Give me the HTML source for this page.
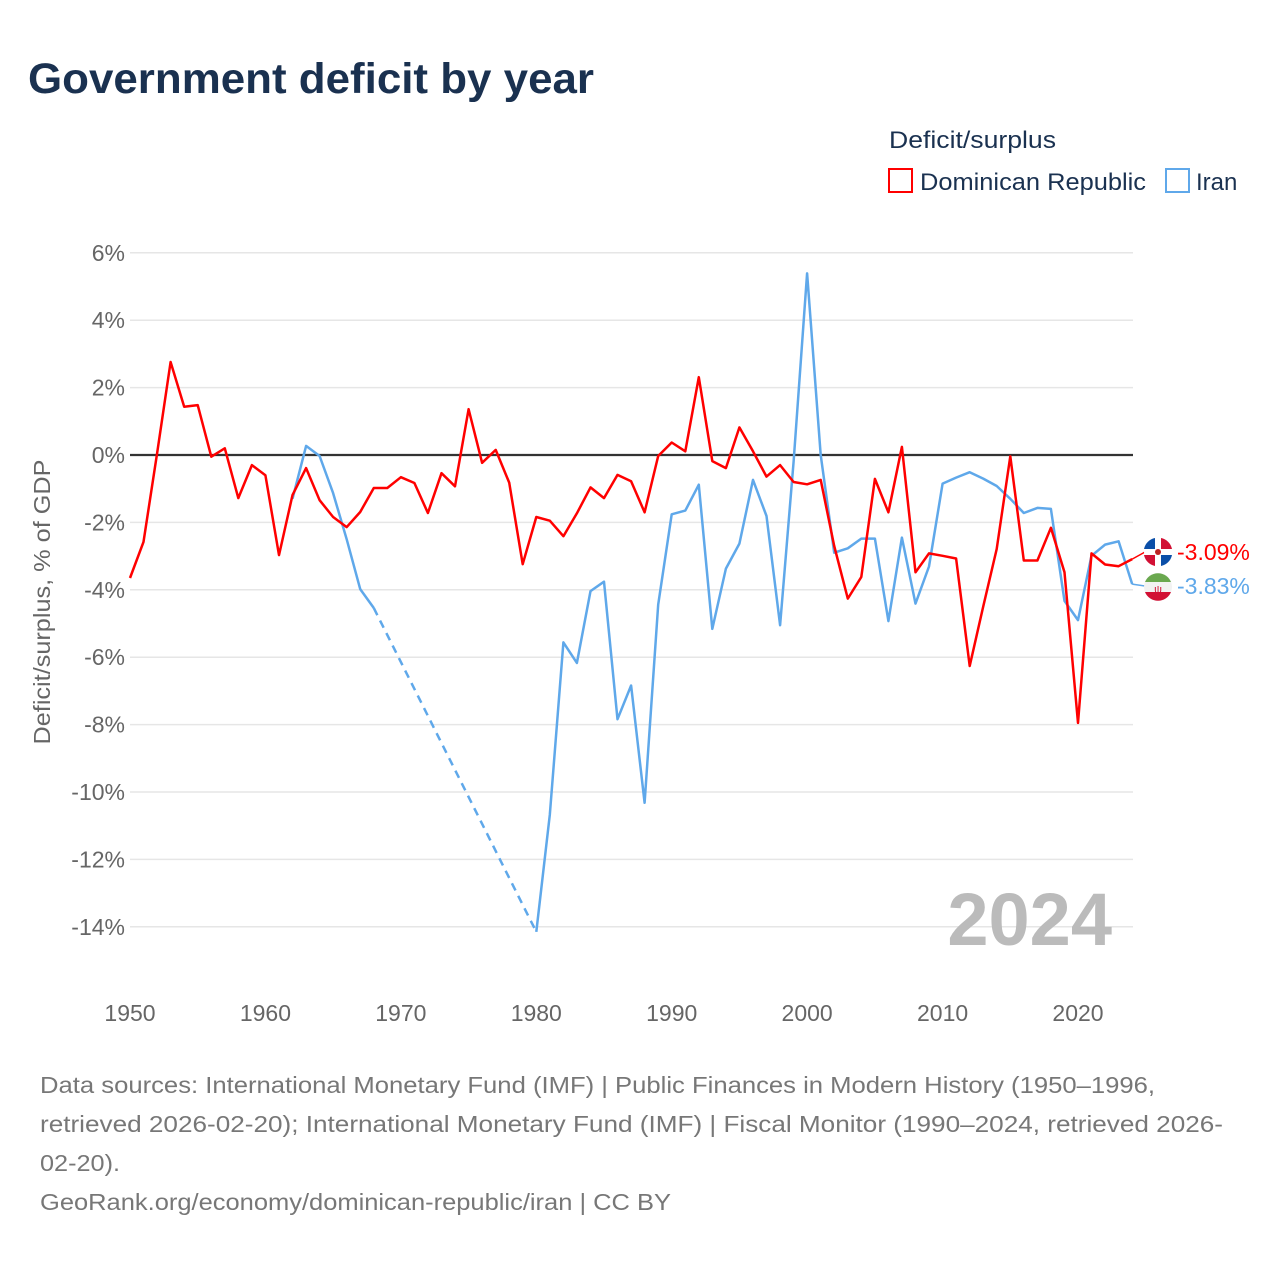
<!DOCTYPE html>
<html><head><meta charset="utf-8">
<style>
html,body{margin:0;padding:0;background:#fff;}
svg{display:block;font-family:"Liberation Sans",sans-serif;}
</style></head>
<body>
<svg id="chart" width="1280" height="1280" viewBox="0 0 1280 1280">
<text x="28" y="93" font-size="43" font-weight="bold" fill="#1a3150" textLength="566" lengthAdjust="spacingAndGlyphs">Government deficit by year</text>
<text x="889" y="148" font-size="24" fill="#1a3150" textLength="167" lengthAdjust="spacingAndGlyphs">Deficit/surplus</text>
<g>
<rect x="889" y="169" width="23" height="23" fill="none" stroke="#f00" stroke-width="2"/>
<text x="920" y="190" font-size="24" fill="#1a3150" textLength="226" lengthAdjust="spacingAndGlyphs">Dominican Republic</text>
</g>
<g>
<rect x="1166" y="169" width="23" height="23" fill="none" stroke="#5fa8ea" stroke-width="2"/>
<text x="1196" y="190" font-size="24" fill="#1a3150">Iran</text>
</g>
<g id="grid"></g>
<g id="yticks"></g>
<g id="xticks"></g>
<text transform="translate(50,602) rotate(-90)" text-anchor="middle" font-size="23" fill="#666" textLength="285" lengthAdjust="spacingAndGlyphs">Deficit/surplus, % of GDP</text>
<text x="1112" y="945" text-anchor="end" font-size="74" font-weight="bold" fill="#bbb">2024</text>
<g id="series"></g>
<g font-size="23.5" fill="#777">
<text x="40" y="1093" textLength="1115" lengthAdjust="spacingAndGlyphs">Data sources: International Monetary Fund (IMF) | Public Finances in Modern History (1950–1996,</text>
<text x="40" y="1132" textLength="1183" lengthAdjust="spacingAndGlyphs">retrieved 2026-02-20); International Monetary Fund (IMF) | Fiscal Monitor (1990–2024, retrieved 2026-</text>
<text x="40" y="1171" textLength="80" lengthAdjust="spacingAndGlyphs">02-20).</text>
<text x="40" y="1210" textLength="631" lengthAdjust="spacingAndGlyphs">GeoRank.org/economy/dominican-republic/iran | CC BY</text>
</g>
</svg>
<script>
const drYears = [];
for (let y = 1950; y <= 2024; y++) drYears.push(y);
const drValues = [-3.65,-2.58,0.05,2.76,1.43,1.48,-0.05,0.2,-1.28,-0.3,-0.6,-2.97,-1.19,-0.39,-1.34,-1.84,-2.14,-1.69,-0.98,-0.98,-0.66,-0.83,-1.72,-0.54,-0.93,1.36,-0.23,0.15,-0.82,-3.24,-1.84,-1.95,-2.41,-1.73,-0.96,-1.28,-0.59,-0.78,-1.7,-0.03,0.37,0.11,2.31,-0.18,-0.39,0.82,0.11,-0.64,-0.3,-0.8,-0.87,-0.74,-2.7,-4.26,-3.62,-0.71,-1.7,0.24,-3.48,-2.92,-2.99,-3.07,-6.26,-4.5,-2.79,-0.04,-3.13,-3.13,-2.16,-3.48,-7.95,-2.92,-3.25,-3.3,-3.09];
const irYearsA = [1962,1963,1964,1965,1966,1967,1968];
const irValuesA = [-1.3,0.27,-0.03,-1.13,-2.5,-3.98,-4.54];
const irYearsB = [];
for (let y = 1980; y <= 2024; y++) irYearsB.push(y);
const irValuesB = [-14.15,-10.68,-5.56,-6.17,-4.04,-3.76,-7.84,-6.84,-10.32,-4.44,-1.76,-1.65,-0.88,-5.16,-3.37,-2.63,-0.74,-1.81,-5.05,-0.2,5.39,0,-2.9,-2.77,-2.48,-2.48,-4.93,-2.45,-4.41,-3.31,-0.85,-0.67,-0.51,-0.7,-0.92,-1.3,-1.72,-1.57,-1.6,-4.33,-4.9,-2.99,-2.66,-2.56,-3.83];
const yTicks = [6,4,2,0,-2,-4,-6,-8,-10,-12,-14];
const xTicks = [1950,1960,1970,1980,1990,2000,2010,2020];

const NS = "http://www.w3.org/2000/svg";
const X = yr => 130 + (yr - 1950) * (1078 - 130) / 70;
const Y = v => 455 - v * 33.7;
function mk(tag, attrs, parent){const e=document.createElementNS(NS,tag);for(const k in attrs)e.setAttribute(k,attrs[k]);parent.appendChild(e);return e;}
const grid=document.getElementById('grid'), yt=document.getElementById('yticks'), xt=document.getElementById('xticks'), ser=document.getElementById('series');
yTicks.forEach(t=>{
  if(t!==0){const l=mk('line',{x1:130,x2:1133,y1:Y(t),y2:Y(t),stroke:'#e6e6e6','stroke-width':1.5},grid);
  
  }
  const tx=mk('text',{x:125,y:Y(t)+8,'text-anchor':'end','font-size':23,fill:'#666'},yt);
  tx.textContent=t+'%';
  
  
});
xTicks.forEach(t=>{
  const tx=mk('text',{x:X(t),y:1021,'text-anchor':'middle','font-size':23,fill:'#666'},xt);
  tx.textContent=t;
  
  
});
const zl=mk('line',{x1:130,x2:1133,y1:Y(0),y2:Y(0),stroke:'#333','stroke-width':2.2},grid);


function pts(xs,vs){return xs.map((x,i)=>X(x).toFixed(1)+','+Y(vs[i]).toFixed(1)).join(' ');}
const ia=mk('polyline',{points:pts(irYearsA,irValuesA),fill:'none',stroke:'#5fa8ea','stroke-width':2.5,'stroke-linejoin':'round'},ser);


const id=mk('line',{x1:X(1968),y1:Y(irValuesA[irValuesA.length-1]),x2:X(1980),y2:Y(irValuesB[0]),stroke:'#5fa8ea','stroke-width':2.5,'stroke-dasharray':'8,6'},ser);


const ib=mk('polyline',{points:pts(irYearsB,irValuesB),fill:'none',stroke:'#5fa8ea','stroke-width':2.5,'stroke-linejoin':'round'},ser);


const dr=mk('polyline',{points:pts(drYears,drValues),fill:'none',stroke:'#f00','stroke-width':2.5,'stroke-linejoin':'round'},ser);


const drLast=drValues[drValues.length-1], irLast=irValuesB[irValuesB.length-1];
const c1=mk('line',{x1:X(2024),x2:1145,y1:Y(drLast),y2:552,stroke:'#f00','stroke-width':1.5},ser);


const c2=mk('line',{x1:X(2024),x2:1145,y1:Y(irLast),y2:586,stroke:'#5fa8ea','stroke-width':1.5},ser);


const f1=mk('g',{},ser);


mk('circle',{cx:1158,cy:552,r:14,fill:'#fff'},f1);
mk('path',{d:'M1144 549 A14 14 0 0 1 1155 538 L1155 549 Z',fill:'#0b4fa8'},f1);
mk('path',{d:'M1161 538 A14 14 0 0 1 1172 549 L1161 549 Z',fill:'#d21034'},f1);
mk('path',{d:'M1144 555 A14 14 0 0 0 1155 566 L1155 555 Z',fill:'#d21034'},f1);
mk('path',{d:'M1161 566 A14 14 0 0 0 1172 555 L1161 555 Z',fill:'#0b4fa8'},f1);
mk('circle',{cx:1158,cy:552,r:3,fill:'#b22'},f1);
const t1=mk('text',{x:1177,y:560,'font-size':23,fill:'#f00'},ser);
t1.textContent=drLast.toFixed(2)+'%';


const f2=mk('g',{},ser);


mk('circle',{cx:1158,cy:587,r:14,fill:'#f2f2f2'},f2);
mk('path',{d:'M1145 582 A14 14 0 0 1 1171 582 Z',fill:'#6aa84f'},f2);
mk('path',{d:'M1145 592 A14 14 0 0 0 1171 592 Z',fill:'#d21034'},f2);
mk('text',{x:1158,y:593,'text-anchor':'middle','font-size':11,fill:'#d21034'},f2).textContent='ψ';
const t2=mk('text',{x:1177,y:594,'font-size':23,fill:'#5fa8ea'},ser);
t2.textContent=irLast.toFixed(2)+'%';


</script>
</body></html>
